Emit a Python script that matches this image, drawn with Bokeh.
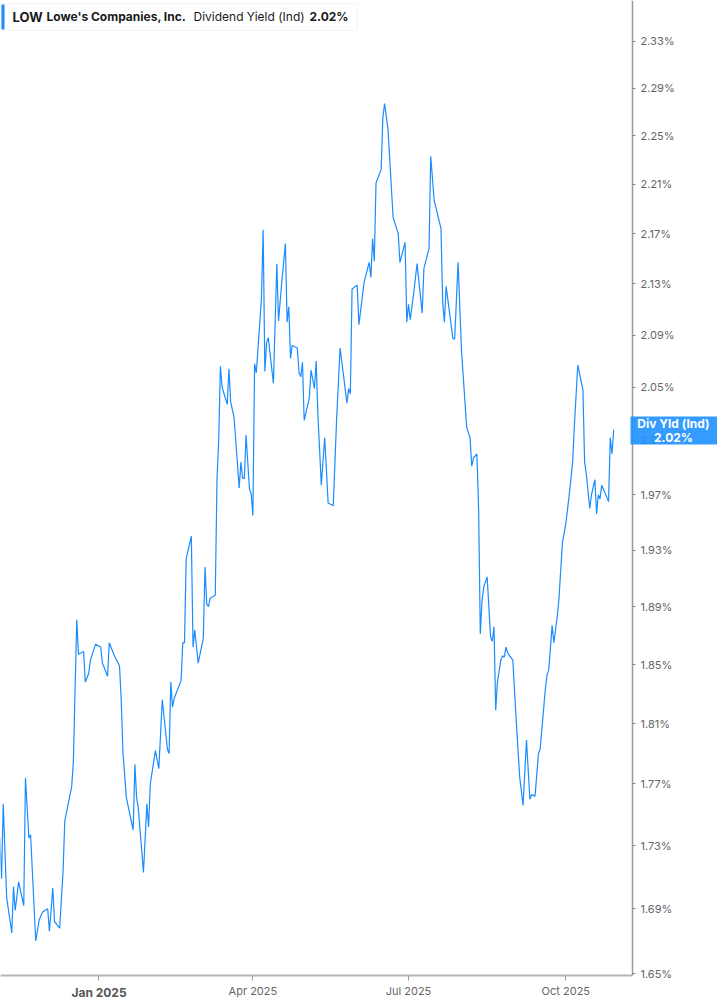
import pandas as pd
from bokeh.plotting import figure
from bokeh.models import (Range1d, FixedTicker, PrintfTickFormatter, DatetimeTickFormatter,
                          Label, BoxAnnotation, ColumnDataSource)
from bokeh.embed import file_html
from bokeh.resources import INLINE

# ---------------- data ----------------
dates = [
    "2024-11-04", "2024-11-05", "2024-11-06", "2024-11-08", "2024-11-11", "2024-11-12", "2024-11-13",
    "2024-11-15", "2024-11-18", "2024-11-19", "2024-11-21", "2024-11-22", "2024-11-25", "2024-11-27",
    "2024-11-29", "2024-12-02", "2024-12-03", "2024-12-05", "2024-12-06", "2024-12-09", "2024-12-11",
    "2024-12-12", "2024-12-16", "2024-12-17", "2024-12-19", "2024-12-20", "2024-12-23", "2024-12-24",
    "2024-12-26", "2024-12-27", "2024-12-30",
    "2025-01-02", "2025-01-03", "2025-01-06", "2025-01-07", "2025-01-10", "2025-01-13", "2025-01-14",
    "2025-01-15", "2025-01-17", "2025-01-21", "2025-01-22", "2025-01-23", "2025-01-24", "2025-01-27",
    "2025-01-29", "2025-01-30", "2025-01-31",
    "2025-02-03", "2025-02-05", "2025-02-07", "2025-02-10", "2025-02-11", "2025-02-12", "2025-02-13",
    "2025-02-14", "2025-02-18", "2025-02-19", "2025-02-20", "2025-02-21", "2025-02-24", "2025-02-25",
    "2025-02-26", "2025-02-28",
    "2025-03-03", "2025-03-04", "2025-03-05", "2025-03-06", "2025-03-07", "2025-03-10", "2025-03-11",
    "2025-03-12", "2025-03-13", "2025-03-14", "2025-03-17", "2025-03-18", "2025-03-19", "2025-03-21",
    "2025-03-24", "2025-03-25", "2025-03-26", "2025-03-27", "2025-03-28", "2025-03-30", "2025-03-31",
    "2025-04-01", "2025-04-02", "2025-04-03", "2025-04-05", "2025-04-06", "2025-04-07", "2025-04-08",
    "2025-04-09", "2025-04-10", "2025-04-13", "2025-04-15", "2025-04-16", "2025-04-18", "2025-04-20",
    "2025-04-21", "2025-04-22", "2025-04-23", "2025-04-24", "2025-04-27", "2025-04-28", "2025-04-29",
    "2025-04-30",
    "2025-05-01", "2025-05-04", "2025-05-05", "2025-05-07", "2025-05-08", "2025-05-09", "2025-05-11",
    "2025-05-13", "2025-05-15", "2025-05-18", "2025-05-20", "2025-05-22", "2025-05-24", "2025-05-26",
    "2025-05-27", "2025-05-28", "2025-05-29",
    "2025-06-01", "2025-06-02", "2025-06-03", "2025-06-05", "2025-06-08", "2025-06-09", "2025-06-10",
    "2025-06-11", "2025-06-12", "2025-06-15", "2025-06-16", "2025-06-17", "2025-06-19", "2025-06-22",
    "2025-06-25", "2025-06-26", "2025-06-29", "2025-06-30",
    "2025-07-01", "2025-07-02", "2025-07-04", "2025-07-06", "2025-07-09", "2025-07-10", "2025-07-13",
    "2025-07-14", "2025-07-16", "2025-07-20", "2025-07-21", "2025-07-22", "2025-07-23", "2025-07-27",
    "2025-07-28", "2025-07-30",
    "2025-08-01", "2025-08-04", "2025-08-06", "2025-08-07", "2025-08-08", "2025-08-10", "2025-08-11",
    "2025-08-12", "2025-08-13", "2025-08-14", "2025-08-16", "2025-08-18", "2025-08-19", "2025-08-20",
    "2025-08-21", "2025-08-22", "2025-08-24", "2025-08-25", "2025-08-26", "2025-08-27", "2025-08-28",
    "2025-08-31",
    "2025-09-02", "2025-09-04", "2025-09-06", "2025-09-08", "2025-09-10", "2025-09-11", "2025-09-13",
    "2025-09-15", "2025-09-16", "2025-09-19", "2025-09-20", "2025-09-21", "2025-09-23", "2025-09-24",
    "2025-09-26", "2025-09-27", "2025-09-29",
    "2025-10-01", "2025-10-03", "2025-10-05", "2025-10-06", "2025-10-08", "2025-10-11", "2025-10-12",
    "2025-10-13", "2025-10-15", "2025-10-16", "2025-10-18", "2025-10-19", "2025-10-20", "2025-10-21",
    "2025-10-22", "2025-10-23", "2025-10-26", "2025-10-27", "2025-10-28", "2025-10-29",
]

div_yield = [
    1.735, 1.709, 1.757, 1.697, 1.675, 1.704, 1.689, 1.707, 1.692, 1.774, 1.735, 1.737, 1.670, 1.683, 1.688,
    1.690, 1.676, 1.703, 1.682, 1.678, 1.714, 1.746, 1.768, 1.784, 1.881, 1.857, 1.859, 1.838, 1.844, 1.853, 1.864,
    1.862, 1.851, 1.842, 1.865, 1.856, 1.849, 1.826, 1.791, 1.761, 1.740, 1.783, 1.761, 1.754, 1.713, 1.757, 1.742, 1.770,
    1.792, 1.780, 1.826, 1.793, 1.790, 1.838, 1.821, 1.827, 1.839, 1.865, 1.865, 1.924, 1.940, 1.862, 1.874, 1.851,
    1.868, 1.918, 1.892, 1.890, 1.896, 1.898, 1.981, 2.010, 2.066, 2.050, 2.037, 2.064, 2.039, 2.027, 1.975, 1.994,
    1.982, 1.982, 2.014, 1.974, 1.971,
    1.955, 2.068, 2.061, 2.099, 2.119, 2.173, 2.062, 2.084, 2.088, 2.053, 2.146, 2.101, 2.133, 2.162, 2.100, 2.112,
    2.072, 2.082, 2.080, 2.061, 2.058, 2.069,
    2.025, 2.042, 2.063, 2.049, 2.070, 2.030, 1.977, 2.012, 1.964, 1.962, 2.027, 2.080, 2.059, 2.038, 2.049, 2.045, 2.126,
    2.129, 2.098, 2.109, 2.131, 2.147, 2.135, 2.166, 2.148, 2.211, 2.222, 2.265, 2.277, 2.256, 2.183, 2.170, 2.147,
    2.163, 2.100,
    2.114, 2.102, 2.122, 2.146, 2.107, 2.142, 2.158, 2.233, 2.197, 2.174, 2.115, 2.100, 2.128, 2.087, 2.087, 2.147,
    2.078, 2.020, 2.012, 1.991, 1.997, 2.000, 1.960, 1.871, 1.894, 1.904, 1.911, 1.869, 1.866, 1.876, 1.819, 1.838,
    1.853, 1.856, 1.855, 1.862, 1.858, 1.853,
    1.812, 1.775, 1.756, 1.799, 1.760, 1.763, 1.762, 1.790, 1.793, 1.833, 1.843, 1.846, 1.877, 1.865, 1.883, 1.896, 1.935,
    1.949, 1.970, 1.994, 2.021, 2.067, 2.048, 1.994, 1.985, 1.960, 1.970, 1.981, 1.956, 1.970, 1.967, 1.977, 1.974,
    1.965, 2.012, 2.000, 2.018,
]

y_ticks = [1.65, 1.69, 1.73, 1.77, 1.81, 1.85, 1.89, 1.93, 1.97, 2.01, 2.05, 2.09, 2.13, 2.17, 2.21, 2.25, 2.29, 2.33]
x_tick_dates = ["2025-01-01", "2025-04-01", "2025-07-01", "2025-10-01"]
x_tick_labels = ["Jan 2025", "Apr 2025", "Jul 2025", "Oct 2025"]

ticker_symbol = "LOW"
company = "Lowe's Companies, Inc."
metric = "Dividend Yield (Ind)"
last_value = "2.02%"
badge_title = "Div Yld (Ind)"
badge_value = "2.02%"

# ---------------- figure ----------------
LINE = "#1a8cff"
BADGE = "#1E90FF"
FONT = "Inter"
W, H = 717, 1005


def ms(ts):
    return float(pd.Timestamp(ts).value // 10**6)


src = ColumnDataSource(dict(date=pd.to_datetime(dates), yld=div_yield))

x_start = pd.Timestamp("2024-11-04 09:36")
x_end = pd.Timestamp("2025-12-28 17:00")
y_axis_at = pd.Timestamp("2025-11-09 00:00")   # where the value axis sits
y_lo, y_hi = 1.6306, 2.3656
x_axis_at = 1.6488                            # where the time axis sits

p = figure(width=W, height=H, x_axis_type="datetime", y_axis_type="log",
           y_axis_location="right", output_backend="svg", toolbar_location=None,
           x_range=Range1d(x_start, x_end), y_range=Range1d(y_lo, y_hi),
           min_border_left=0, min_border_top=0, min_border_right=0, min_border_bottom=0)
p.outline_line_color = None
p.grid.visible = False
p.background_fill_color = "white"
p.border_fill_color = "white"

p.line("date", "yld", source=src, line_color=LINE, line_width=1.2)

# y axis (right)
ya = p.yaxis[0]
ya.fixed_location = ms(y_axis_at)
ya.bounds = (x_axis_at, y_hi)
ya.ticker = FixedTicker(ticks=y_ticks, minor_ticks=[])
ya.formatter = PrintfTickFormatter(format="%.2f%%")
ya.major_label_text_font = FONT
ya.major_label_text_font_size = "11px"
ya.major_label_text_color = "#666666"
ya.axis_line_color = "#9a9a9a"
ya.axis_line_width = 1.5
ya.major_tick_line_color = "#888888"
ya.major_tick_out = 3
ya.major_tick_in = 0
ya.minor_tick_out = 0
ya.minor_tick_in = 0
ya.major_label_standoff = 5

# x axis (bottom)
tick_ms = [int(ms(d)) for d in x_tick_dates]
xa = p.xaxis[0]
xa.fixed_location = x_axis_at
xa.bounds = (ms(x_start), ms(y_axis_at))
xa.ticker = FixedTicker(ticks=tick_ms, minor_ticks=[])
xa.formatter = DatetimeTickFormatter(months="%b %Y", days="%b %Y", years="%b %Y")
xa.major_label_overrides = {tick_ms[0]: " "}
xa.major_label_text_font = FONT
xa.major_label_text_font_size = "11px"
xa.major_label_text_color = "#666666"
xa.axis_line_color = "#b5b5b5"
xa.axis_line_width = 2
xa.major_tick_line_color = "#999999"
xa.major_tick_out = 5
xa.major_tick_in = 0
xa.minor_tick_out = 0
xa.minor_tick_in = 0
xa.major_label_standoff = 3

# bold "Jan 2025" label
p.add_layout(Label(x=pd.Timestamp(x_tick_dates[0]), y=13, x_units="data", y_units="screen",
                   text=x_tick_labels[0], text_font=FONT, text_font_size="12px",
                   text_font_style="bold", text_color="#555555",
                   text_align="center", text_baseline="middle"))

# legend box (top-left)
p.add_layout(BoxAnnotation(left=1, right=357, top=H - 3, bottom=H - 30,
                           left_units="screen", right_units="screen",
                           top_units="screen", bottom_units="screen",
                           fill_color="white", fill_alpha=1.0,
                           line_color="#dddddd", line_width=1, border_radius=3, level="overlay"))
p.add_layout(BoxAnnotation(left=1, right=4, top=H - 4, bottom=H - 29,
                           left_units="screen", right_units="screen",
                           top_units="screen", bottom_units="screen",
                           fill_color=LINE, fill_alpha=1.0, line_color=None, level="overlay"))
for txt, xx, size, style in [(ticker_symbol, 12, "13px", "bold"), (company, 46, "12px", "bold"),
                             (metric, 193, "12px", "normal"), (last_value, 309, "12px", "bold")]:
    p.add_layout(Label(x=xx, y=H - 16, x_units="screen", y_units="screen", text=txt,
                       text_font=FONT, text_font_size=size, text_font_style=style,
                       text_color="#1a1a1a", text_baseline="middle", level="overlay"))

# last-value badge on the value axis
p.add_layout(BoxAnnotation(left=630, right=W, top=H - 416, bottom=H - 444,
                           left_units="screen", right_units="screen",
                           top_units="screen", bottom_units="screen",
                           fill_color=BADGE, fill_alpha=0.9, line_color=None, level="overlay"))
for txt, yy in [(badge_title, H - 423), (badge_value, H - 437)]:
    p.add_layout(Label(x=673, y=yy, x_units="screen", y_units="screen", text=txt,
                       text_font=FONT, text_font_size="12px", text_font_style="bold",
                       text_color="white", text_align="center", text_baseline="middle",
                       level="overlay"))

open("out.html", "w").write(file_html(p, INLINE))
